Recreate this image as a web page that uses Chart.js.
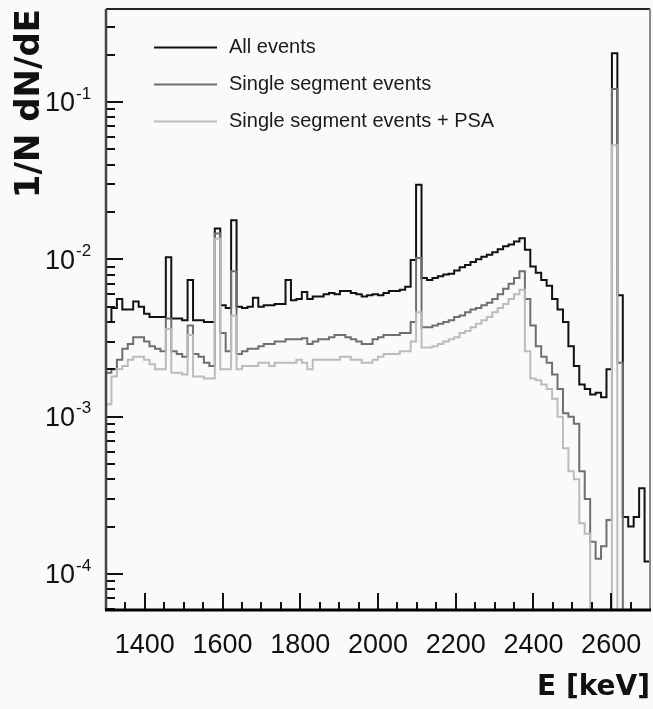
<!DOCTYPE html>
<html>
<head>
<meta charset="utf-8">
<script src="https://cdn.jsdelivr.net/npm/chart.js@4.4.0/dist/chart.umd.min.js"></script>
<style>
  html, body { margin: 0; padding: 0; background: #fafafa; }
  #wrap { width: 653px; height: 709px; }
</style>
</head>
<body>
<div id="wrap"><canvas id="spectrum" width="653" height="709"></canvas></div>
<script>
// histogram binning: 100 bins of 14 keV from 1300 to 2700 keV
const binLow = 1300;
const binWidth = 14;

// 1/N dN/dE per bin (0 = empty bin)
const allEvents = [
  4.0e-3, 4.9e-3, 5.6e-3, 4.8e-3, 4.8e-3, 5.4e-3, 5.0e-3, 4.5e-3, 4.3e-3, 4.3e-3,
  4.3e-3, 1.03e-2, 4.2e-3, 4.2e-3, 4.1e-3, 7.4e-3, 4.1e-3, 4.1e-3, 4.0e-3, 4.0e-3,
  1.57e-2, 5.1e-3, 4.9e-3, 1.77e-2, 5.0e-3, 4.9e-3, 5.0e-3, 5.7e-3, 5.0e-3, 5.1e-3,
  5.1e-3, 5.2e-3, 5.2e-3, 7.4e-3, 5.5e-3, 5.6e-3, 6.2e-3, 5.6e-3, 5.8e-3, 5.8e-3,
  6.0e-3, 6.1e-3, 6.0e-3, 6.3e-3, 6.3e-3, 6.1e-3, 6.0e-3, 5.8e-3, 5.9e-3, 6.0e-3,
  5.9e-3, 6.1e-3, 6.3e-3, 6.3e-3, 6.4e-3, 6.7e-3, 9.9e-3, 2.98e-2, 7.6e-3, 7.4e-3,
  7.6e-3, 7.8e-3, 8.0e-3, 8.1e-3, 8.5e-3, 8.9e-3, 9.2e-3, 9.6e-3, 1.00e-2, 1.04e-2,
  1.07e-2, 1.11e-2, 1.16e-2, 1.21e-2, 1.24e-2, 1.30e-2, 1.36e-2, 1.15e-2, 9.0e-3, 8.2e-3,
  7.4e-3, 6.8e-3, 5.6e-3, 4.8e-3, 4.0e-3, 2.8e-3, 2.1e-3, 1.6e-3, 1.5e-3, 1.38e-3,
  1.42e-3, 1.33e-3, 2.0e-3, 0.204, 5.9e-3, 2.3e-4, 2.0e-4, 2.3e-4, 3.5e-4, 1.2e-4
];

const singleSeg = [
  1.9e-3, 2.0e-3, 2.3e-3, 2.7e-3, 2.9e-3, 3.2e-3, 3.2e-3, 3.0e-3, 2.8e-3, 2.7e-3,
  2.6e-3, 4.2e-3, 2.6e-3, 2.5e-3, 2.4e-3, 3.8e-3, 2.5e-3, 2.4e-3, 2.2e-3, 2.1e-3,
  1.46e-2, 3.4e-3, 2.6e-3, 8.4e-3, 2.5e-3, 2.6e-3, 2.7e-3, 2.7e-3, 2.8e-3, 2.9e-3,
  2.9e-3, 3.0e-3, 3.0e-3, 3.1e-3, 3.1e-3, 3.1e-3, 3.15e-3, 2.9e-3, 3.0e-3, 3.1e-3,
  3.1e-3, 3.2e-3, 3.3e-3, 3.3e-3, 3.2e-3, 3.1e-3, 3.0e-3, 2.9e-3, 2.9e-3, 3.1e-3,
  3.2e-3, 3.3e-3, 3.3e-3, 3.3e-3, 3.4e-3, 3.4e-3, 4.0e-3, 1.02e-2, 3.7e-3, 3.7e-3,
  3.8e-3, 3.9e-3, 4.0e-3, 4.1e-3, 4.3e-3, 4.4e-3, 4.6e-3, 4.8e-3, 4.9e-3, 5.1e-3,
  5.3e-3, 5.6e-3, 6.0e-3, 6.5e-3, 7.0e-3, 7.6e-3, 8.4e-3, 5.6e-3, 3.8e-3, 2.8e-3,
  2.4e-3, 2.2e-3, 1.85e-3, 1.5e-3, 1.05e-3, 1.0e-3, 9.0e-4, 4.5e-4, 3.0e-4, 1.6e-4,
  1.25e-4, 1.5e-4, 2.2e-4, 0.121, 2.2e-3, 0, 0, 0, 0, 0
];

const singleSegPSA = [
  1.2e-3, 1.8e-3, 2.0e-3, 2.1e-3, 2.3e-3, 2.4e-3, 2.4e-3, 2.3e-3, 2.15e-3, 2.0e-3,
  2.0e-3, 3.6e-3, 1.9e-3, 1.9e-3, 1.85e-3, 3.3e-3, 1.8e-3, 1.8e-3, 1.75e-3, 1.75e-3,
  1.35e-2, 2.0e-3, 2.0e-3, 4.4e-3, 2.0e-3, 2.1e-3, 2.1e-3, 2.1e-3, 2.2e-3, 2.2e-3,
  2.1e-3, 2.2e-3, 2.2e-3, 2.2e-3, 2.2e-3, 2.3e-3, 2.2e-3, 2.0e-3, 2.3e-3, 2.3e-3,
  2.3e-3, 2.3e-3, 2.3e-3, 2.4e-3, 2.4e-3, 2.3e-3, 2.3e-3, 2.2e-3, 2.2e-3, 2.3e-3,
  2.4e-3, 2.5e-3, 2.5e-3, 2.5e-3, 2.6e-3, 2.6e-3, 3.0e-3, 4.6e-3, 2.75e-3, 2.75e-3,
  2.8e-3, 2.9e-3, 3.0e-3, 3.1e-3, 3.2e-3, 3.4e-3, 3.5e-3, 3.7e-3, 3.9e-3, 4.1e-3,
  4.3e-3, 4.6e-3, 4.9e-3, 5.2e-3, 5.6e-3, 6.0e-3, 6.4e-3, 2.6e-3, 1.75e-3, 1.7e-3,
  1.6e-3, 1.5e-3, 1.3e-3, 1.0e-3, 6.3e-4, 4.5e-4, 4.0e-4, 2.1e-4, 1.8e-4, 0,
  0, 0, 0, 5.3e-2, 0, 0, 0, 0, 0, 0
];

const seriesLabels = ['All events', 'Single segment events', 'Single segment events + PSA'];
const seriesColors = ['#111111', '#6f6f6f', '#bcbcbc'];

const xTicks = [1400, 1600, 1800, 2000, 2200, 2400, 2600];
const yDecades = [-4, -3, -2, -1];

const xMin = 1300, xMax = 2700;
const yMin = 5.9e-5, yMax = 0.39;

// ROOT style step histogram: points on the low bin edges plus the last upper edge
function toSteps(vals) {
  const pts = vals.map((v, i) => ({ x: binLow + i * binWidth, y: v > 0 ? v : yMin / 100 }));
  const last = pts[pts.length - 1].y;
  pts.push({ x: binLow + vals.length * binWidth, y: last });
  return pts;
}

const FONT = '"Liberation Sans", Arial, Helvetica, sans-serif';
const TITLE_FONT = '"DejaVu Sans", Verdana, sans-serif';

// inner ticks, frame, exponent labels and legend drawn the way ROOT does it
const rootStyle = {
  id: 'rootStyle',
  afterDatasetsDraw(chart) {
    const { ctx, chartArea: a, scales: { x, y } } = chart;
    ctx.save();
    ctx.strokeStyle = '#111';
    ctx.lineWidth = 2;
    ctx.beginPath();
    for (let e = xMin + 50; e < xMax; e += 50) {
      const px = Math.round(x.getPixelForValue(e));
      const len = e % 200 === 0 ? 17 : 8;
      ctx.moveTo(px, a.bottom);
      ctx.lineTo(px, a.bottom - len);
    }
    for (let p = -5; p <= 0; p++) {
      for (let m = 1; m <= 9; m++) {
        const v = m * Math.pow(10, p);
        if (v <= yMin || v >= yMax) continue;
        const py = Math.round(y.getPixelForValue(v));
        ctx.moveTo(a.left, py);
        ctx.lineTo(a.left + (m === 1 ? 17 : 9), py);
      }
    }
    ctx.stroke();

    // frame
    ctx.lineWidth = 2;
    ctx.strokeStyle = '#222';
    ctx.beginPath();
    ctx.moveTo(a.left, a.top); ctx.lineTo(a.right, a.top);
    ctx.stroke();
    ctx.strokeStyle = '#8a8a8a';
    ctx.beginPath();
    ctx.moveTo(a.right, a.top); ctx.lineTo(a.right, a.bottom);
    ctx.stroke();
    ctx.strokeStyle = '#444';
    ctx.lineWidth = 2.5;
    ctx.beginPath();
    ctx.moveTo(a.left, a.top); ctx.lineTo(a.left, a.bottom);
    ctx.stroke();
    ctx.strokeStyle = '#000';
    ctx.lineWidth = 3;
    ctx.beginPath();
    ctx.moveTo(a.left - 1, a.bottom); ctx.lineTo(a.right + 1, a.bottom);
    ctx.stroke();
    ctx.restore();
  },
  afterDraw(chart) {
    const { ctx, chartArea: a, scales: { y } } = chart;
    ctx.save();
    ctx.fillStyle = '#111';
    // y tick labels 10^n
    yDecades.forEach(n => {
      const py = y.getPixelForValue(Math.pow(10, n));
      ctx.font = '27px ' + FONT;
      ctx.textAlign = 'right';
      ctx.textBaseline = 'middle';
      ctx.fillText('10', a.left - 31, py + 2);
      ctx.font = '17px ' + FONT;
      ctx.textAlign = 'left';
      ctx.fillText(String(n), a.left - 30, py - 8);
    });
    // legend
    ctx.font = '20px ' + FONT;
    ctx.textAlign = 'left';
    ctx.textBaseline = 'middle';
    chart.data.datasets.forEach((ds, i) => {
      const ly = a.top + 38.5 + i * 37;
      ctx.strokeStyle = ds.borderColor;
      ctx.lineWidth = 2;
      ctx.beginPath();
      ctx.moveTo(a.left + 48, ly);
      ctx.lineTo(a.left + 111, ly);
      ctx.stroke();
      ctx.fillStyle = '#1a1a1a';
      ctx.fillText(ds.label, a.left + 123, ly);
    });
    ctx.restore();
  }
};

const datasets = [allEvents, singleSeg, singleSegPSA].map((vals, i) => ({
  label: seriesLabels[i],
  data: toSteps(vals),
  borderColor: seriesColors[i],
  backgroundColor: seriesColors[i],
  borderWidth: 2,
  stepped: true,
  pointRadius: 0,
  fill: false,
  order: 3 - i
}));

new Chart(document.getElementById('spectrum'), {
  type: 'line',
  data: { datasets: datasets },
  options: {
    responsive: false,
    animation: false,
    layout: { padding: { top: 9, right: 3, left: 0, bottom: 0 } },
    plugins: { legend: { display: false }, tooltip: { enabled: false } },
    scales: {
      x: {
        type: 'linear',
        min: xMin,
        max: xMax,
        afterFit: s => { s.height = 99; },
        afterBuildTicks: s => { s.ticks = xTicks.map(v => ({ value: v })); },
        grid: { display: false },
        border: { display: false },
        ticks: {
          autoSkip: false,
          maxRotation: 0,
          padding: 11,
          color: '#111',
          font: { family: FONT, size: 27 },
          callback: v => String(v)
        },
        title: {
          display: true,
          text: 'E [keV]',
          align: 'end',
          color: '#111',
          font: { family: TITLE_FONT, size: 28, weight: 'bold' },
          padding: { top: 0, bottom: 4 }
        }
      },
      y: {
        type: 'logarithmic',
        min: yMin,
        max: yMax,
        afterFit: s => { s.width = 106; },
        grid: { display: false },
        border: { display: false },
        ticks: { display: false },
        title: {
          display: true,
          text: '1/N dN/dE',
          align: 'end',
          color: '#111',
          font: { family: TITLE_FONT, size: 34, weight: 'bold' },
          padding: { top: 10, bottom: 0 }
        }
      }
    }
  },
  plugins: [rootStyle]
});
</script>
</body>
</html>
